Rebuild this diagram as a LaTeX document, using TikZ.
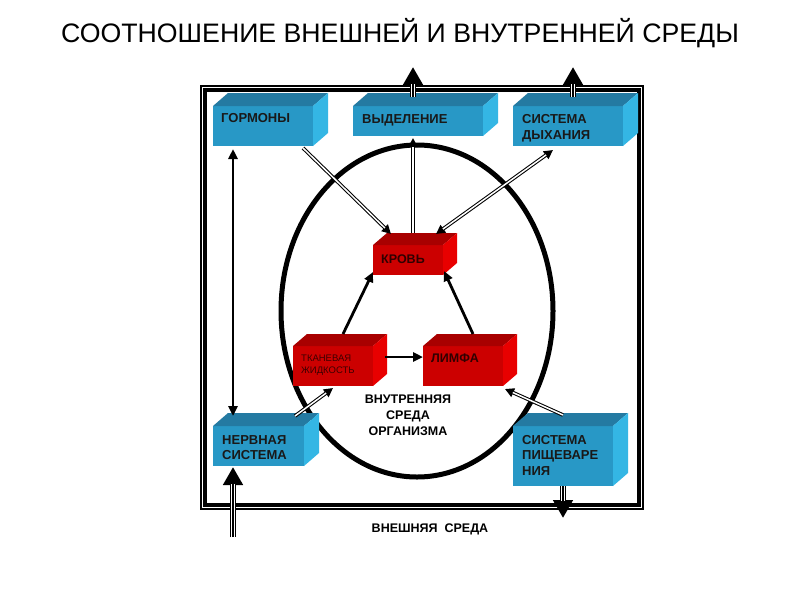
\documentclass[tikz,border=0pt]{standalone}
\usepackage{fontspec}
\setmainfont{Liberation Sans}
\usetikzlibrary{arrows.meta,calc}
\definecolor{bfr}{RGB}{40,152,198}
\definecolor{btop}{RGB}{36,122,162}
\definecolor{bside}{RGB}{52,182,228}
\definecolor{rfr}{RGB}{204,0,0}
\definecolor{rtop}{RGB}{168,0,0}
\definecolor{rside}{RGB}{232,0,0}
\definecolor{rtxt}{RGB}{60,0,0}
\tikzset{
  front/.style={inner sep=0pt, outer sep=0pt, anchor=north west},
  bfront/.style={front, fill=bfr},
  rfront/.style={front, fill=rfr},
  lbl/.style={font=\bfseries\fontsize{13}{15.5}\selectfont, text=black!90, align=left, inner sep=0pt, anchor=north west},
  midtxt/.style={font=\bfseries\fontsize{12.5}{16}\selectfont, align=center, inner sep=0pt, anchor=north},
  dblarrow/.style={draw, line width=3.6pt, -{Triangle[length=9pt,width=9pt]}, postaction={draw=white, line width=1.5pt, -, shorten >=8.5pt}},
  dblboth/.style={draw, line width=3.6pt, {Triangle[length=9pt,width=9pt]}-{Triangle[length=9pt,width=9pt]}, postaction={draw=white, line width=1.5pt, -, shorten >=8.5pt, shorten <=8.5pt}},
  solidarrow/.style={draw, line width=2.8pt, -{Triangle[length=10pt,width=9pt]}},
  triplearrow/.style={draw, line width=6.5pt, -{Triangle[length=18pt,width=19pt]}, postaction={draw=white, line width=4.4pt, -, shorten >=17pt}, postaction={draw=black, line width=1.3pt, -, shorten >=17pt}},
}
\begin{document}
\begin{tikzpicture}[x=1pt,y=-1pt]
\useasboundingbox[fill=white] (0,0) rectangle (800,600);

% title
\node[font=\fontsize{26.7}{30}\selectfont, inner sep=0pt] (title) at (400,33) {СООТНОШЕНИЕ ВНЕШНЕЙ И ВНУТРЕННЕЙ СРЕДЫ};

% frame
\draw[line width=1.3pt] (201,86) rectangle (643,509);
\draw[line width=4pt] (205,90) rectangle (639,505);

% ellipse
\draw[line width=5pt] (417,311) ellipse [x radius=136, y radius=166];

% blue boxes (front faces)
\node[bfront, minimum width=100, minimum height=40] (gorm) at (213,106) {};
\node[bfront, minimum width=130, minimum height=30] (vyd) at (353,106) {};
\node[bfront, minimum width=110, minimum height=40] (dyh) at (513,106) {};
\node[bfront, minimum width=91, minimum height=40] (nerv) at (213,426) {};
\node[bfront, minimum width=100, minimum height=60] (pish) at (513,426) {};
\foreach \n in {gorm,vyd,dyh,nerv,pish}{
  \fill[btop] (\n.north west) -- ++(15,-13) -- ([shift={(15,-13)}]\n.north east) -- (\n.north east) -- cycle;
  \fill[bside] (\n.north east) -- ++(15,-13) -- ([shift={(15,-13)}]\n.south east) -- (\n.south east) -- cycle;
}
% red boxes
\node[rfront, minimum width=70, minimum height=30] (krov) at (373,245) {};
\node[rfront, minimum width=80, minimum height=40] (tkan) at (293,346) {};
\node[rfront, minimum width=80, minimum height=40] (limf) at (423,346) {};
\foreach \n in {krov,tkan,limf}{
  \fill[rtop] (\n.north west) -- ++(14,-12) -- ([shift={(14,-12)}]\n.north east) -- (\n.north east) -- cycle;
  \fill[rside] (\n.north east) -- ++(14,-12) -- ([shift={(14,-12)}]\n.south east) -- (\n.south east) -- cycle;
}

% labels
\node[lbl] (tgorm) at (221,113) {ГОРМОНЫ};
\node[lbl] (tvyd) at (362,114.5) {ВЫДЕЛЕНИЕ};
\node[lbl] (tdyh) at (522,114.5) {СИСТЕМА\\ДЫХАНИЯ};
\node[lbl] (tnerv) at (222,435) {НЕРВНАЯ\\СИСТЕМА};
\node[lbl] (tpish) at (522,435) {СИСТЕМА\\ПИЩЕВАРЕ\\НИЯ};
\node[lbl, font=\bfseries\fontsize{12.5}{15}\selectfont, text=rtxt!80!black] (tkrov) at (381,254.5) {КРОВЬ};
\node[lbl, font=\bfseries\fontsize{12.5}{15}\selectfont, text=rtxt!80!black] (tlimf) at (431,353.5) {ЛИМФА};
\node[lbl, font=\fontsize{9.5}{12}\selectfont, text=rtxt] (ttkan) at (301,355) {ТКАНЕВАЯ\\ЖИДКОСТЬ};
\node[midtxt] (tinner) at (408,395) {ВНУТРЕННЯЯ\\СРЕДА\\ОРГАНИЗМА};
\node[midtxt, anchor=north] (touter) at (430,524) {ВНЕШНЯЯ\ \ СРЕДА};

% coordinates for free ends
\coordinate (vydout) at (413,67);
\coordinate (dyhout) at (573,67);
\coordinate (pishout) at (563,518);
\coordinate (nervin) at (233,537);

% connectors
\path[dblarrow] ([xshift=-10pt,yshift=-2pt]gorm.south east) -- ([xshift=18pt,yshift=11pt]krov.north west);
\path[dblarrow] ([xshift=5pt,yshift=12pt]krov.north) -- ([xshift=-5pt,yshift=-2pt]vyd.south);
\path[dblboth] ([xshift=40pt,yshift=-4pt]dyh.south west) -- ([xshift=-7pt,yshift=11pt]krov.north east);
\path[dblarrow] ([xshift=-9pt,yshift=10pt]nerv.north east) -- ([yshift=-2pt]tkan.south);
\path[dblarrow] ([yshift=11pt]pish.north) -- ([xshift=2pt,yshift=-3pt]limf.south east);

\draw[line width=2.8pt, {Triangle[length=10pt,width=9pt]}-{Triangle[length=10pt,width=9pt]}] ([xshift=20pt,yshift=-3pt]gorm.south west) -- ([xshift=20pt,yshift=10pt]nerv.north west);
\path[solidarrow] ([xshift=50pt,yshift=12pt]tkan.north west) -- ([yshift=3pt]krov.south west);
\path[solidarrow] ([xshift=50pt,yshift=12pt]limf.north west) -- ([xshift=1pt,yshift=4pt]krov.south east);
\path[solidarrow] ([xshift=12pt,yshift=-11pt]tkan.north east) -- ([yshift=-11pt]limf.north west);

\path[triplearrow] ([xshift=-5pt,yshift=9pt]vyd.north) -- (vydout);
\path[triplearrow] ([xshift=5pt,yshift=9pt]dyh.north) -- (dyhout);
\path[triplearrow] (pish.south) -- (pishout);
\path[triplearrow] (nervin) -- ([xshift=20pt,yshift=-1pt]nerv.south west);
\end{tikzpicture}
\end{document}
